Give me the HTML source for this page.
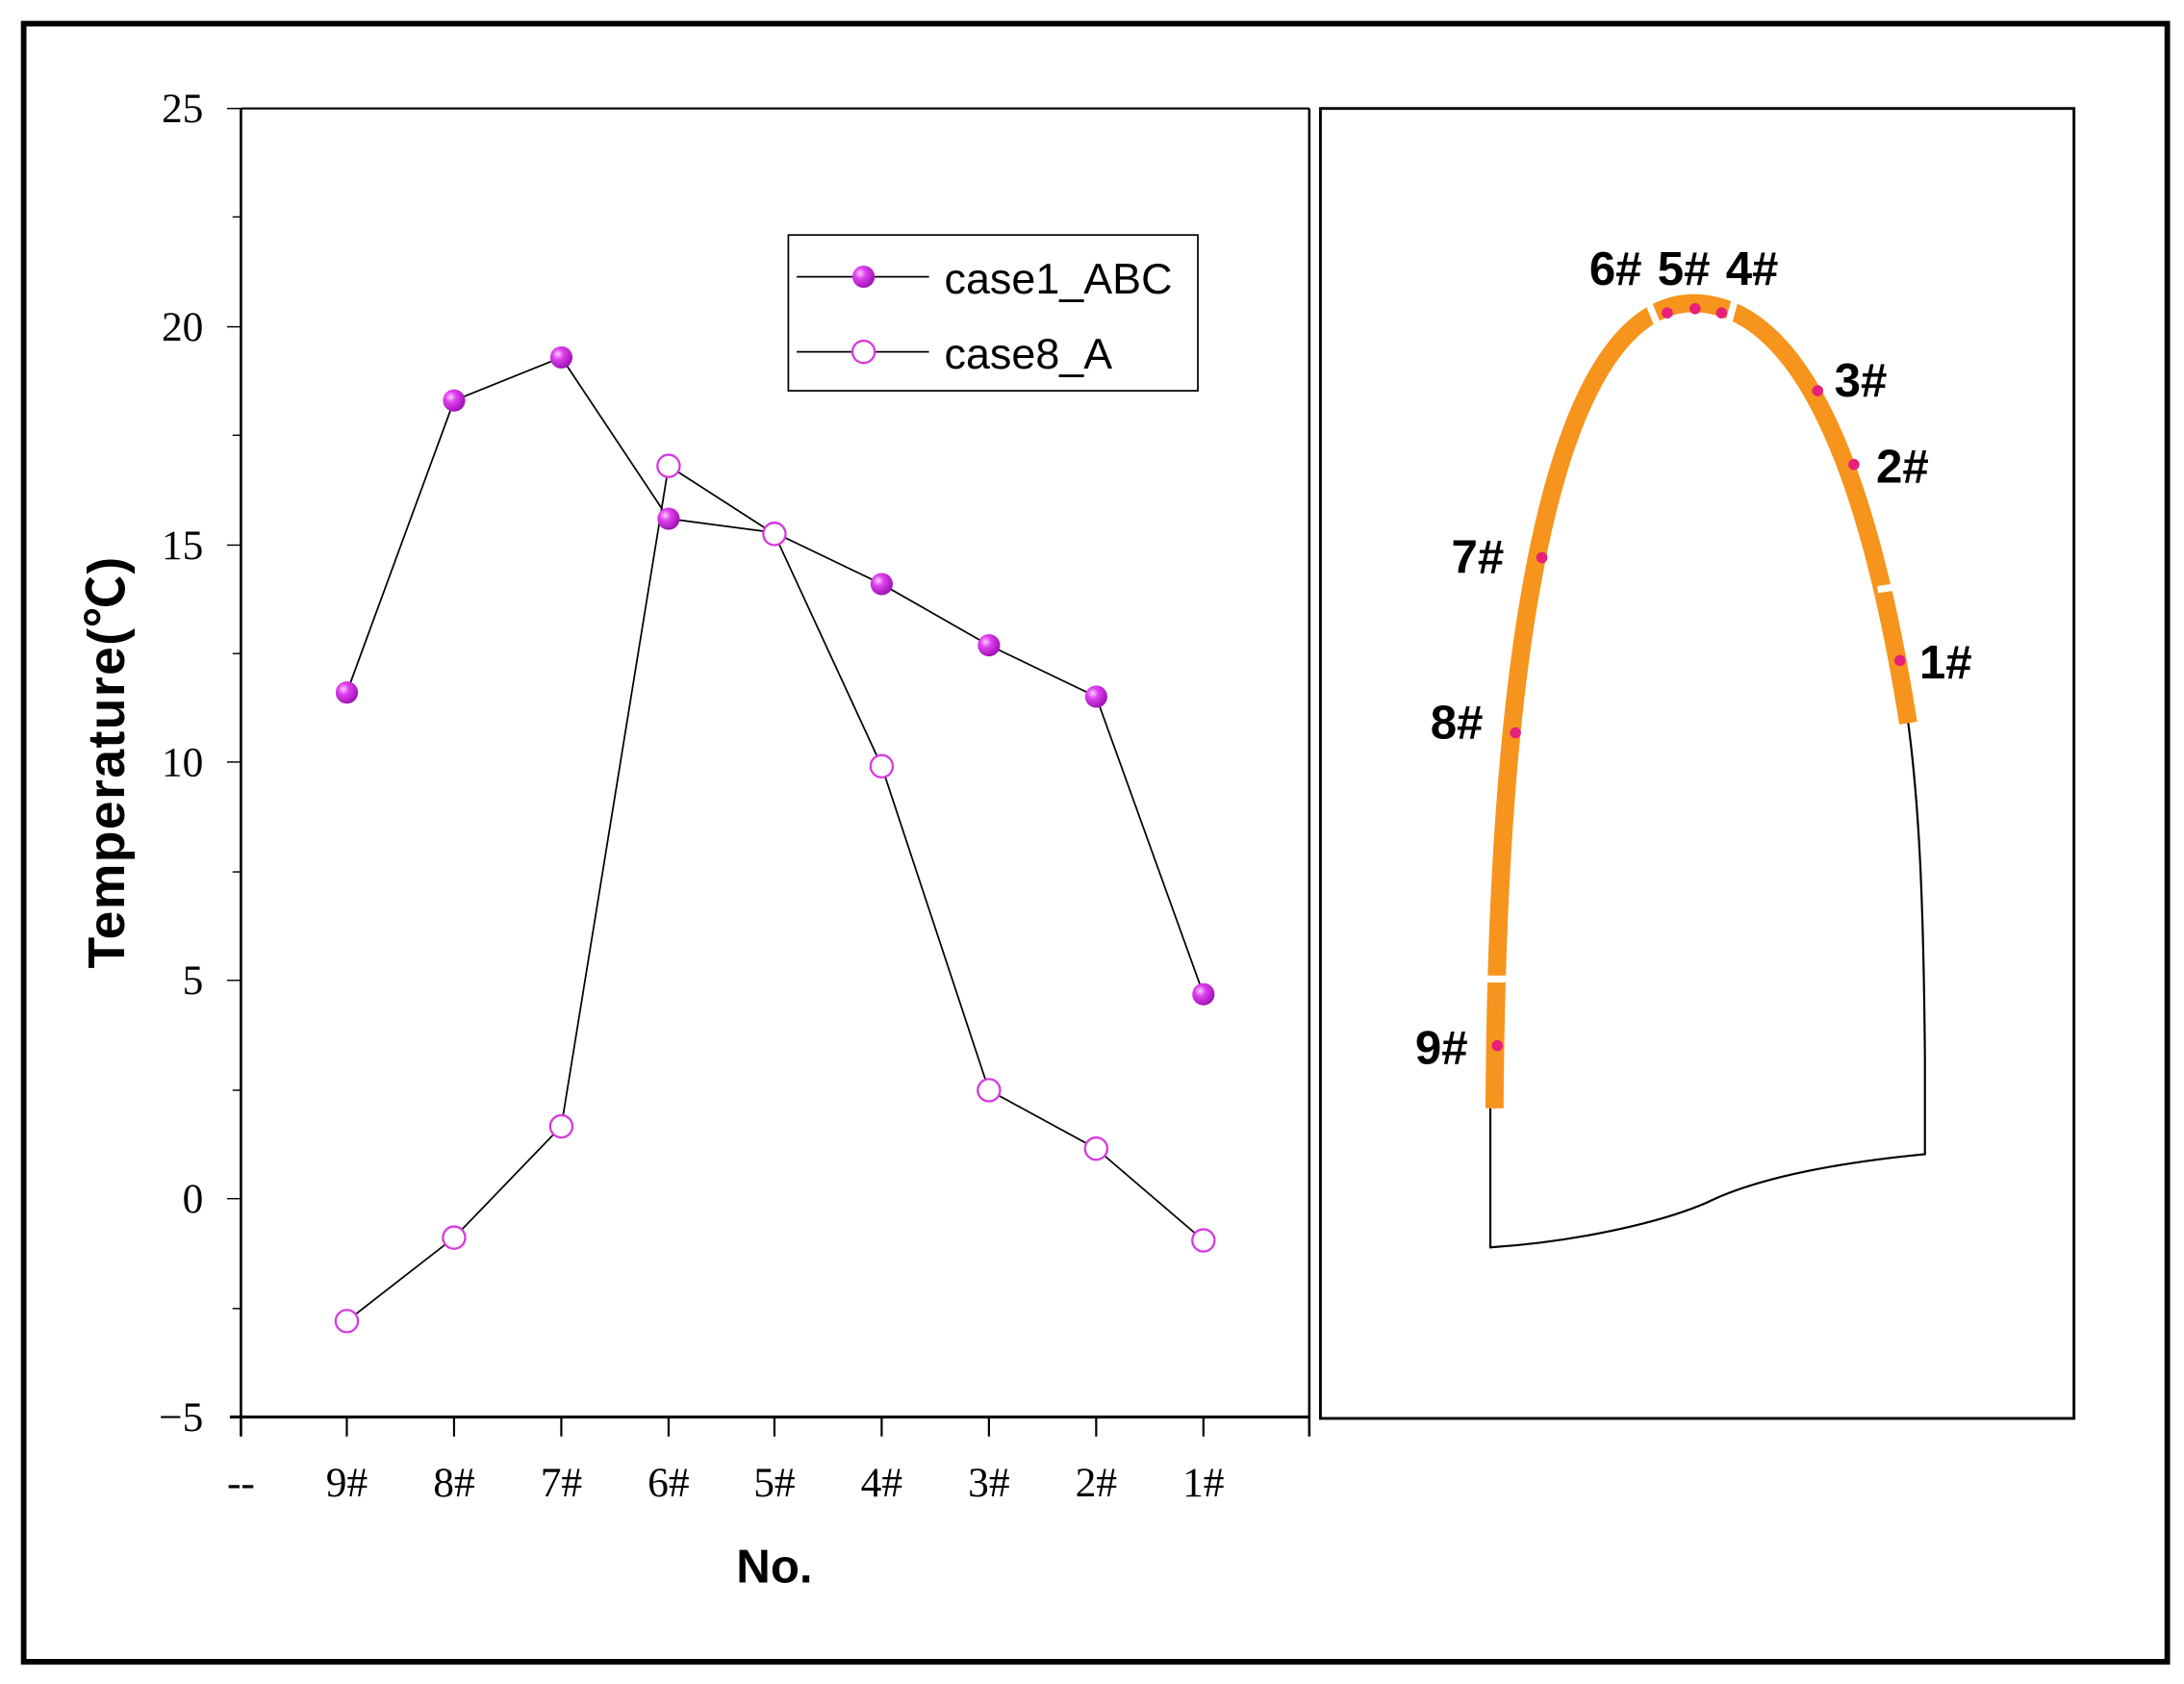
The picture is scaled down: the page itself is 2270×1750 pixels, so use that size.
<!DOCTYPE html>
<html><head><meta charset="utf-8"><style>html,body{margin:0;padding:0;background:#fff}svg{display:block}</style></head>
<body>
<svg width="2270" height="1750" viewBox="0 0 1568 1211" preserveAspectRatio="none" xmlns="http://www.w3.org/2000/svg">
<rect x="0" y="0" width="1568" height="1211" fill="#fff"/>
<rect x="17" y="17" width="1539" height="1178" fill="none" stroke="#000" stroke-width="4"/>
<g stroke="#000" fill="none">
<line x1="173" y1="78" x2="940" y2="78" stroke-width="1.5"/>
<line x1="173" y1="78" x2="173" y2="1033" stroke-width="1.8"/>
<line x1="940" y1="78" x2="940" y2="1033" stroke-width="1.8"/>
<line x1="165" y1="1019" x2="940" y2="1019" stroke-width="2.2"/>
<line x1="163" y1="78" x2="173" y2="78"/>
<line x1="167" y1="156" x2="173" y2="156"/>
<line x1="163" y1="235" x2="173" y2="235"/>
<line x1="167" y1="313" x2="173" y2="313"/>
<line x1="163" y1="392" x2="173" y2="392"/>
<line x1="167" y1="470" x2="173" y2="470"/>
<line x1="163" y1="548" x2="173" y2="548"/>
<line x1="167" y1="627" x2="173" y2="627"/>
<line x1="163" y1="705" x2="173" y2="705"/>
<line x1="167" y1="784" x2="173" y2="784"/>
<line x1="163" y1="862" x2="173" y2="862"/>
<line x1="167" y1="941" x2="173" y2="941"/>
<g stroke-width="1.5">
<line x1="249" y1="1019" x2="249" y2="1033"/><line x1="326" y1="1019" x2="326" y2="1033"/>
<line x1="403" y1="1019" x2="403" y2="1033"/><line x1="480" y1="1019" x2="480" y2="1033"/>
<line x1="556" y1="1019" x2="556" y2="1033"/><line x1="633" y1="1019" x2="633" y2="1033"/>
<line x1="710" y1="1019" x2="710" y2="1033"/><line x1="787" y1="1019" x2="787" y2="1033"/>
<line x1="864" y1="1019" x2="864" y2="1033"/>
</g>
</g>
<g font-family="Liberation Serif, serif" font-size="30" fill="#000" text-anchor="end">
<text x="146" y="88">25</text><text x="146" y="245">20</text><text x="146" y="402">15</text>
<text x="146" y="558">10</text><text x="146" y="715">5</text><text x="146" y="872">0</text>
<text x="146" y="1029">−5</text>
</g>
<g font-family="Liberation Serif, serif" font-size="30" fill="#000" text-anchor="middle">
<text x="173" y="1076">--</text><text x="249" y="1076">9#</text><text x="326" y="1076">8#</text>
<text x="403" y="1076">7#</text><text x="480" y="1076">6#</text><text x="556" y="1076">5#</text>
<text x="633" y="1076">4#</text><text x="710" y="1076">3#</text><text x="787" y="1076">2#</text>
<text x="864" y="1076">1#</text>
</g>
<text x="556" y="1138" font-family="Liberation Sans, sans-serif" font-weight="bold" font-size="34" text-anchor="middle">No.</text>
<text transform="translate(89,548) rotate(-90)" font-family="Liberation Sans, 'Noto Sans CJK SC', sans-serif" font-weight="bold" font-size="37" letter-spacing="1" text-anchor="middle">Temperature(℃)</text>
<polyline fill="none" stroke="#000" stroke-width="1.2" points="249,498 326,288 403,257 480,373 556,383 633,420 710,464 787,501 864,715"/>
<polyline fill="none" stroke="#000" stroke-width="1.2" points="249,950 326,890 403,810 480,335 556,384 633,551 710,784 787,826 864,892"/>
<defs><radialGradient id="g" cx="0.35" cy="0.35" r="0.7"><stop offset="0" stop-color="#fbd0fb"/><stop offset="0.35" stop-color="#e040f0"/><stop offset="1" stop-color="#9a10b0"/></radialGradient></defs>
<g fill="url(#g)">
<circle cx="249" cy="498" r="8"/><circle cx="326" cy="288" r="8"/><circle cx="403" cy="257" r="8"/>
<circle cx="480" cy="373" r="8"/><circle cx="556" cy="383" r="8"/><circle cx="633" cy="420" r="8"/>
<circle cx="710" cy="464" r="8"/><circle cx="787" cy="501" r="8"/><circle cx="864" cy="715" r="8"/>
</g>
<g fill="#fff" stroke="#d63be0" stroke-width="1.6">
<circle cx="249" cy="950" r="8"/><circle cx="326" cy="890" r="8"/><circle cx="403" cy="810" r="8"/>
<circle cx="480" cy="335" r="8"/><circle cx="556" cy="384" r="8"/><circle cx="633" cy="551" r="8"/>
<circle cx="710" cy="784" r="8"/><circle cx="787" cy="826" r="8"/><circle cx="864" cy="892" r="8"/>
</g>
<rect x="566" y="169" width="294" height="112" fill="#fff" stroke="#000" stroke-width="1.2"/>
<line x1="572" y1="199" x2="667" y2="199" stroke="#000" stroke-width="1.2"/>
<line x1="572" y1="253" x2="667" y2="253" stroke="#000" stroke-width="1.2"/>
<circle cx="620" cy="199" r="8" fill="url(#g)"/>
<circle cx="620" cy="253" r="8" fill="#fff" stroke="#d63be0" stroke-width="1.6"/>
<g font-family="Liberation Sans, sans-serif" font-size="31" fill="#000">
<text x="678" y="211">case1_ABC</text><text x="678" y="265">case8_A</text>
</g>
<rect x="948" y="78" width="541" height="942" fill="none" stroke="#000" stroke-width="2"/>
<g fill="none" stroke="#000" stroke-width="1.5">
<path d="M1070,797 L1070,897 C1130,893 1190,880 1225,865 C1265,845 1330,835 1382,830 L1382,760 C1381,650 1378,580 1370,520"/>
<path d="M1073,797 C1075,400 1130,220 1215,218 C1290,218 1340,330 1370,520"/>
</g>
<path d="M1073,797 C1075,400 1130,220 1215,218 C1290,218 1340,330 1370,520" fill="none" stroke="#f7941d" stroke-width="13"/>
<g stroke="#fff" stroke-width="5">
<line x1="1066" y1="704" x2="1086" y2="704"/>
<line x1="1182" y1="214" x2="1191" y2="236"/>
<line x1="1246" y1="214" x2="1240" y2="236"/>
<line x1="1348" y1="424" x2="1368" y2="421"/>
</g>
<g fill="#e8207a">
<circle cx="1075" cy="752" r="4"/><circle cx="1088" cy="527" r="4"/><circle cx="1107" cy="401" r="4"/>
<circle cx="1197" cy="225" r="4"/><circle cx="1217" cy="222" r="4"/><circle cx="1236" cy="225" r="4"/>
<circle cx="1305" cy="281" r="4"/><circle cx="1331" cy="334" r="4"/><circle cx="1364" cy="475" r="4"/>
</g>
<g font-family="Liberation Sans, sans-serif" font-weight="bold" font-size="34" fill="#000">
<text x="1016" y="765">9#</text><text x="1027" y="531">8#</text><text x="1042" y="412">7#</text>
<text x="1141" y="205">6#</text><text x="1190" y="205">5#</text><text x="1239" y="205">4#</text>
<text x="1317" y="285">3#</text><text x="1347" y="347">2#</text><text x="1378" y="488">1#</text>
</g>
</svg>
</body></html>
